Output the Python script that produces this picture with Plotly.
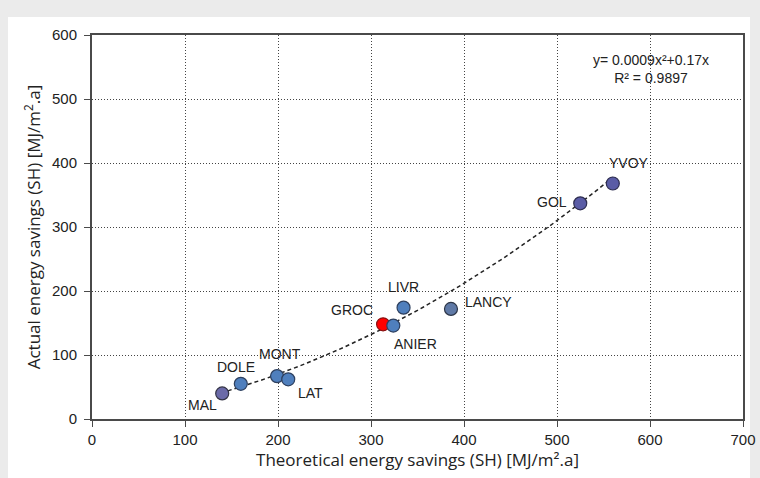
import plotly.graph_objects as go

# Data
sites = ["MAL", "DOLE", "MONT", "LAT", "GROC", "ANIER", "LIVR", "LANCY", "GOL", "YVOY"]
theoretical = [140, 160, 199, 211, 313, 324, 335, 386, 525, 560]
actual = [40, 55, 67, 62, 148, 146, 174, 172, 337, 368]
colors = ["#6b6aa8", "#4f7fbd", "#4f7fbd", "#4f7fbd", "#ff0000", "#4f7fbd", "#4f7fbd", "#5f79a6", "#5a5ca6", "#5a5ca6"]
outlines = ["#333344", "#2d3f5e", "#2d3f5e", "#2d3f5e", "#8a1010", "#2d3f5e", "#2d3f5e", "#2d3648", "#2d2d50", "#2d2d50"]

# label offsets (pixels) relative to each point
label_dx = [-20, -5, 3, 22, -31, 22, 0, 38, -28, 16]
label_dy = [-12, 17, 22, -14, 14, -18, 21, 7, 1, 20]

# Trend line as displayed: y = 0.0009x^2 + 0.17x
coef_a = 0.0009
coef_b = 0.17
trend_x_start = 146
trend_x_end = 560
x_ticks = [0, 100, 200, 300, 400, 500, 600, 700]
y_ticks = [0, 100, 200, 300, 400, 500, 600]

n = 60
trend_x = [trend_x_start + (trend_x_end - trend_x_start) * i / (n - 1) for i in range(n)]
trend_y = [coef_a * x * x + coef_b * x for x in trend_x]

fig = go.Figure()
fig.add_trace(go.Scatter(
    x=trend_x, y=trend_y, mode="lines",
    line=dict(color="#222222", width=1.5, dash="4px,3px"),
    hoverinfo="skip", showlegend=False))
fig.add_trace(go.Scatter(
    x=theoretical, y=actual, mode="markers", text=sites,
    marker=dict(size=13, color=colors, line=dict(color=outlines, width=1.2)),
    showlegend=False))

for s, x, y, dx, dy in zip(sites, theoretical, actual, label_dx, label_dy):
    fig.add_annotation(x=x, y=y, text=s, showarrow=False, xshift=dx, yshift=dy,
                       font=dict(family="Liberation Sans, Arial", size=14, color="#222222"))

fig.add_annotation(xref="paper", yref="paper", x=0.8587, y=0.911,
                   xanchor="center", yanchor="middle",
                   text="y= 0.0009x²+0.17x<br>R² = 0.9897", showarrow=False,
                   align="center",
                   font=dict(family="Liberation Sans, Arial", size=14, color="#222222"))

# white panel on grey page
fig.add_shape(type="rect", xref="paper", yref="paper",
              x0=-0.129, x1=1.0108, y0=-0.2, y1=1.047,
              fillcolor="white", line=dict(width=0), layer="below")

axis_common = dict(
    showline=True, linecolor="#4a4a4a", linewidth=2, mirror=True,
    showgrid=True, gridcolor="#444444", gridwidth=1, griddash="1px,2px",
    ticks="outside", ticklen=6, tickcolor="#4a4a4a", tickwidth=1,
    zeroline=False,
    tickfont=dict(family="Liberation Sans, Arial", size=15, color="#222222"),
)

fig.update_xaxes(range=[0, 700], tickvals=x_ticks,
                 title=dict(text="Theoretical energy savings (SH) [MJ/m².a]",
                            font=dict(family="Open Sans, Lato", size=17, color="#222222"),
                            standoff=5),
                 **axis_common)
fig.update_yaxes(range=[0, 600], tickvals=y_ticks, ticklabelstandoff=4,
                 title=dict(text="Actual energy savings (SH) [MJ/m<sup>2</sup>.a]",
                            font=dict(family="Open Sans, Lato", size=17, color="#222222"),
                            standoff=7),
                 **axis_common)

fig.update_layout(
    width=760, height=478,
    margin=dict(l=92, r=17, t=35, b=59, autoexpand=False),
    paper_bgcolor="#ebebeb", plot_bgcolor="white",
)

fig.write_html("out.html", config={"displayModeBar": False},
               post_script="document.body.style.margin='0';document.body.style.overflow='hidden';")
